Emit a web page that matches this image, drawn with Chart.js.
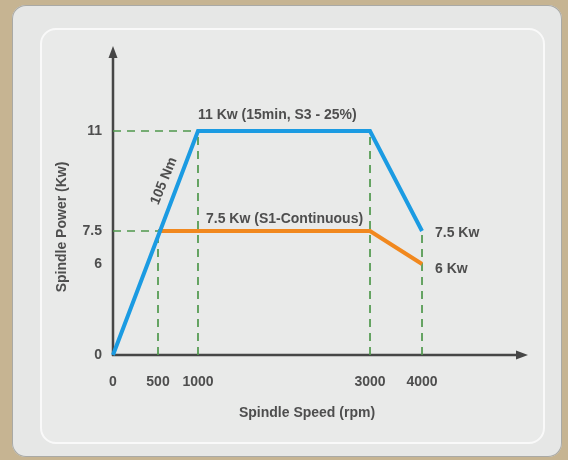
<!DOCTYPE html>
<html>
<head>
<meta charset="utf-8">
<script src="https://cdn.jsdelivr.net/npm/chart.js@4.4.1/dist/chart.umd.min.js"></script>
<style>
html, body { margin: 0; padding: 0; }
body { width: 568px; height: 460px; background: #c6b492; position: relative; overflow: hidden; }
#outer { position: absolute; left: 12px; top: 5px; width: 550px; height: 452px; background: #e6e7e6; border-radius: 14px; box-shadow: inset 0 0 0 1px #a9a9a5; }
#inner { position: absolute; left: 40px; top: 28px; width: 501px; height: 412px; border: 2px solid #f9f9f9; border-radius: 16px; background: #e9eae9; }
canvas { position: absolute; left: 0; top: 0; }
</style>
</head>
<body>
<div id="outer"></div>
<div id="inner"></div>
<canvas id="myChart" width="568" height="460"></canvas>
<script>
// tick labels
const speedTicks = [0, 500, 1000, 3000, 4000];
const powerTicks = [0, 6, 7.5, 11];

// S3 curve (15min, 25%)
const s3Speed = [0, 1000, 3000, 4000];
const s3Power = [0, 11, 11, 7.5];

// S1 curve (continuous)
const s1Speed = [500, 3000, 4000];
const s1Power = [7.5, 7.5, 6];

// dashed guide lines
const guideSpeeds = [500, 1000, 3000, 4000];
const guideTops = [7.5, 11, 11, 7.5];
const guideLevels = [11, 7.5];
const guideEnds = [1000, 500];

// the drawing is schematic: axes are not evenly spaced
const STOPS = {
    x: [[0, 0], [500, 0.1087], [1000, 0.2053], [3000, 0.6208], [4000, 0.7464], [4800, 1]],
    y: [[0, 0], [6, 0.2964], [7.5, 0.4039], [11, 0.7296], [13, 1]]
};

class PiecewiseScale extends Chart.LinearScale {
    static id = 'piecewise';
    static defaults = Chart.LinearScale.defaults;

    toDecimal(v) {
        const s = STOPS[this.id];
        for (let i = 1; i < s.length; i++) {
            if (v <= s[i][0] || i === s.length - 1) {
                const [v0, d0] = s[i - 1], [v1, d1] = s[i];
                return d0 + (v - v0) / (v1 - v0) * (d1 - d0);
            }
        }
        return 0;
    }
    getPixelForValue(v) {
        if (v === null || v === undefined) return NaN;
        return this.getPixelForDecimal(this.toDecimal(v));
    }
    getValueForPixel(p) {
        const d = this.getDecimalForPixel(p);
        const s = STOPS[this.id];
        for (let i = 1; i < s.length; i++) {
            if (d <= s[i][1] || i === s.length - 1) {
                const [v0, d0] = s[i - 1], [v1, d1] = s[i];
                return v0 + (d - d0) / (d1 - d0) * (v1 - v0);
            }
        }
        return 0;
    }
}
Chart.register(PiecewiseScale);

const TEXT = '#4e4e4e';
const FONT = 'bold 14px "Liberation Sans", Arial, sans-serif';
const GREEN = '#4f984c';

const axesPlugin = {
    id: 'axesArrows',
    beforeDatasetsDraw(chart) {
        const { ctx, chartArea: a } = chart;
        ctx.save();
        ctx.strokeStyle = '#464646';
        ctx.fillStyle = '#464646';
        ctx.lineWidth = 2.5;
        ctx.beginPath();
        ctx.moveTo(a.left, a.bottom + 1);
        ctx.lineTo(a.left, a.top + 6);
        ctx.moveTo(a.left - 1, a.bottom);
        ctx.lineTo(a.right - 6, a.bottom);
        ctx.stroke();
        // arrow heads
        ctx.beginPath();
        ctx.moveTo(a.left, a.top - 2);
        ctx.lineTo(a.left - 4.5, a.top + 10);
        ctx.lineTo(a.left + 4.5, a.top + 10);
        ctx.closePath();
        ctx.fill();
        ctx.beginPath();
        ctx.moveTo(a.right + 1, a.bottom);
        ctx.lineTo(a.right - 11, a.bottom - 4.5);
        ctx.lineTo(a.right - 11, a.bottom + 4.5);
        ctx.closePath();
        ctx.fill();
        ctx.restore();
    }
};

const labelsPlugin = {
    id: 'curveLabels',
    afterDatasetsDraw(chart) {
        const { ctx } = chart;
        const x = chart.scales.x, y = chart.scales.y;
        ctx.save();
        ctx.fillStyle = TEXT;
        ctx.font = FONT;
        ctx.textBaseline = 'middle';
        ctx.textAlign = 'left';
        ctx.fillText('11 Kw (15min, S3 - 25%)', x.getPixelForValue(1000), y.getPixelForValue(11) - 16);
        ctx.fillText('7.5 Kw (S1-Continuous)', x.getPixelForValue(1000) + 8, y.getPixelForValue(7.5) - 12);
        ctx.fillText('7.5 Kw', x.getPixelForValue(4000) + 13, y.getPixelForValue(7.5) + 2);
        ctx.fillText('6 Kw', x.getPixelForValue(4000) + 13, y.getPixelForValue(6) + 5);

        // torque label along the rising line
        ctx.save();
        ctx.translate(x.getPixelForValue(1000) - 34, y.getPixelForValue(11) + 50);
        ctx.rotate(-68 * Math.PI / 180);
        ctx.textAlign = 'center';
        ctx.fillText('105 Nm', 0, 0);
        ctx.restore();

        // axis titles
        ctx.textAlign = 'center';
        ctx.fillText('Spindle Speed (rpm)', 307, 413);
        ctx.save();
        ctx.translate(62, 227);
        ctx.rotate(-Math.PI / 2);
        ctx.fillText('Spindle Power (Kw)', 0, 0);
        ctx.restore();
        ctx.restore();
    }
};

const toPoints = (xs, ys) => xs.map((v, i) => ({ x: v, y: ys[i] }));

const guideSets = [
    ...guideSpeeds.map((s, i) => toPoints([s, s], [0, guideTops[i]])),
    ...guideLevels.map((p, i) => toPoints([0, guideEnds[i]], [p, p]))
].map(data => ({
    data,
    borderColor: GREEN,
    borderWidth: 1.7,
    borderDash: [8, 6],
    pointRadius: 0,
    tension: 0,
    clip: false
}));

const tickFont = { family: '"Liberation Sans", Arial, sans-serif', size: 14, weight: 'bold' };

new Chart(document.getElementById('myChart'), {
    type: 'line',
    data: {
        datasets: [
            {
                label: 'S3',
                data: toPoints(s3Speed, s3Power),
                borderColor: '#1b9be2',
                borderWidth: 4,
                pointRadius: 0,
                tension: 0,
                clip: false
            },
            {
                label: 'S1',
                data: toPoints(s1Speed, s1Power),
                borderColor: '#f1881e',
                borderWidth: 4,
                pointRadius: 0,
                tension: 0,
                clip: false
            },
            ...guideSets
        ]
    },
    options: {
        responsive: false,
        animation: false,
        layout: { padding: { left: 0, top: 48, right: 41, bottom: 0 } },
        plugins: {
            legend: { display: false },
            tooltip: { enabled: false }
        },
        scales: {
            x: {
                type: 'piecewise',
                min: 0,
                max: 4800,
                grid: { display: false, drawTicks: false },
                border: { display: false },
                ticks: { padding: 19, color: TEXT, font: tickFont, autoSkip: false, maxRotation: 0, callback: v => String(v) },
                afterBuildTicks: s => { s.ticks = speedTicks.map(v => ({ value: v })); },
                afterFit: s => { s.height = 105; }
            },
            y: {
                type: 'piecewise',
                min: 0,
                max: 13,
                grid: { display: false, drawTicks: false },
                border: { display: false },
                ticks: { padding: 11, color: TEXT, font: tickFont, autoSkip: false, callback: v => String(v) },
                afterBuildTicks: s => { s.ticks = powerTicks.map(v => ({ value: v })); },
                afterFit: s => { s.width = 113; }
            }
        }
    },
    plugins: [axesPlugin, labelsPlugin]
});
</script>
</body>
</html>
